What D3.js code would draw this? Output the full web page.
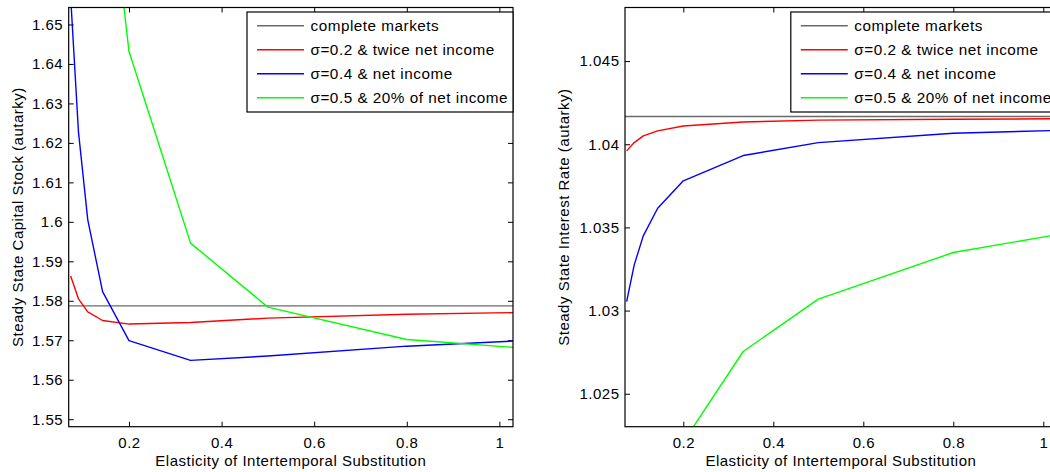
<!DOCTYPE html>
<html>
<head>
<meta charset="utf-8">
<script src="https://cdn.jsdelivr.net/npm/d3@7"></script>
<style>
  html, body { margin: 0; padding: 0; background: #fff; }
  svg { display: block; font-family: "Liberation Sans", Arial, Helvetica, sans-serif; }
  svg text { letter-spacing: 0.5px; }
</style>
</head>
<body>
<svg id="chart" width="1050" height="472"></svg>
<script>
// Elasticity of intertemporal substitution (shared x grid)
const eis = [0.074, 0.0909, 0.111, 0.143, 0.2, 0.333, 0.5, 0.8, 1.03];

// Steady-state capital stock under autarky
const capitalTwiceNet   = [1.5863, 1.5805, 1.5772, 1.5750, 1.5741, 1.5745, 1.5756, 1.5766, 1.5770];
const capitalNet        = [1.6570, 1.6228, 1.6005, 1.5823, 1.5699, 1.5649, 1.5660, 1.5685, 1.5698];
const capitalTwentyPct  = [null, null, null, 1.7015, 1.6432, 1.5946, 1.5784, 1.5702, 1.5682];
const capitalComplete   = 1.5787;

// Steady-state gross interest rate under autarky
const rateTwiceNet      = [1.0396, 1.0401, 1.0405, 1.0408, 1.0411, 1.04134, 1.04145, 1.0415, 1.04153];
const rateNet           = [1.03054, 1.03275, 1.03449, 1.03615, 1.0378, 1.03932, 1.0401, 1.04066, 1.04083];
const rateTwentyPct     = [null, null, null, null, 1.0221, 1.02754, 1.03069, 1.03349, 1.03456];
const rateComplete      = 1.041667;

// Legend entries
const legendLabels = ["complete markets", "σ=0.2 & twice net income", "σ=0.4 & net income", "σ=0.5 & 20% of net income"];
const legendColors = ["#6a6a6a", "#ff0000", "#0000ff", "#00ff00"];

// Axis ticks
const xTicks = [0.2, 0.4, 0.6, 0.8, 1];
const xTickLabels = ["0.2", "0.4", "0.6", "0.8", "1"];
const capTicks = [1.55, 1.56, 1.57, 1.58, 1.59, 1.6, 1.61, 1.62, 1.63, 1.64, 1.65];
const capTickLabels = ["1.55", "1.56", "1.57", "1.58", "1.59", "1.6", "1.61", "1.62", "1.63", "1.64", "1.65"];
const rateTicks = [1.025, 1.03, 1.035, 1.04, 1.045];
const rateTickLabels = ["1.025", "1.03", "1.035", "1.04", "1.045"];

const svg = d3.select("#chart");
svg.append("rect").attr("width", 1050).attr("height", 472).attr("fill", "#fff");

function panel(cfg) {
  const { left, right, top, bottom, xDomain, yDomain, yTicks, yTickLabels, series, refValue, ylabel, ylabelX, id } = cfg;
  const x = d3.scaleLinear().domain(xDomain).range([left, right]);
  const y = d3.scaleLinear().domain(yDomain).range([bottom, top]);
  const g = svg.append("g");

  g.append("clipPath").attr("id", id)
    .append("rect").attr("x", left).attr("y", top).attr("width", right - left).attr("height", bottom - top);

  const xFmt = d => xTickLabels[xTicks.indexOf(d)];
  const yFmt = d => yTickLabels[yTicks.indexOf(d)];

  g.append("g").attr("transform", `translate(0,${bottom})`)
    .call(d3.axisBottom(x).tickValues(xTicks).tickFormat(xFmt).tickSize(-5).tickPadding(11));
  g.append("g").attr("transform", `translate(0,${top})`)
    .call(d3.axisTop(x).tickValues(xTicks).tickFormat("").tickSize(-5));
  g.append("g").attr("transform", `translate(${left},0)`)
    .call(d3.axisLeft(y).tickValues(yTicks).tickFormat(yFmt).tickSize(-5).tickPadding(5.5));
  g.append("g").attr("transform", `translate(${right},0)`)
    .call(d3.axisRight(y).tickValues(yTicks).tickFormat("").tickSize(-5));
  g.selectAll(".domain").remove();
  g.selectAll(".tick line").attr("stroke", "#000").attr("stroke-width", 1);
  g.selectAll(".tick text").attr("fill", "#000").attr("font-size", 15)
    .attr("font-family", "'Liberation Sans', Arial, sans-serif");

  const plot = g.append("g").attr("clip-path", `url(#${id})`);

  plot.append("line")
    .attr("x1", left).attr("x2", right)
    .attr("y1", y(refValue)).attr("y2", y(refValue))
    .attr("stroke", legendColors[0]).attr("stroke-width", 1.4);

  const line = d3.line()
    .defined(d => d[1] !== null)
    .x(d => x(d[0])).y(d => y(d[1]));

  series.forEach((vals, i) => {
    plot.append("path")
      .datum(eis.map((e, k) => [e, vals[k]]))
      .attr("d", line)
      .attr("fill", "none")
      .attr("stroke", legendColors[i + 1])
      .attr("stroke-width", 1.4)
      .attr("stroke-linejoin", "round");
  });

  // frame
  g.append("rect")
    .attr("x", left).attr("y", top).attr("width", right - left).attr("height", bottom - top)
    .attr("fill", "none").attr("stroke", "#000").attr("stroke-width", 1.2);

  // legend
  const lw = 266, lh = 100;
  const lx = right - lw, ly = top + 4.5;
  const lg = g.append("g");
  lg.append("rect").attr("x", lx).attr("y", ly).attr("width", lw).attr("height", lh)
    .attr("fill", "#fff").attr("stroke", "#000").attr("stroke-width", 1.2);
  legendLabels.forEach((lab, i) => {
    const yy = ly + 13.7 + i * 24;
    lg.append("line").attr("x1", lx + 10).attr("x2", lx + 57).attr("y1", yy).attr("y2", yy)
      .attr("stroke", legendColors[i]).attr("stroke-width", 1.4);
    lg.append("text").attr("x", lx + 63.5).attr("y", yy).attr("dy", "0.35em")
      .attr("font-size", 15.3).attr("letter-spacing", "0.6px").attr("fill", "#000").text(lab);
  });

  // axis titles
  g.append("text").attr("x", (left + right) / 2).attr("y", 466)
    .attr("text-anchor", "middle").attr("font-size", 15).attr("fill", "#000")
    .text("Elasticity of Intertemporal Substitution");
  g.append("text")
    .attr("transform", `translate(${ylabelX},${(top + bottom) / 2}) rotate(-90)`)
    .attr("text-anchor", "middle").attr("font-size", 15).attr("fill", "#000")
    .text(ylabel);
}

panel({
  id: "clipCapital",
  left: 68.7, right: 513, top: 7.5, bottom: 426.7,
  xDomain: [0.0698, 1.0294],
  yDomain: [1.5481, 1.6543],
  yTicks: capTicks, yTickLabels: capTickLabels,
  series: [capitalTwiceNet, capitalNet, capitalTwentyPct],
  refValue: capitalComplete,
  ylabel: "Steady State Capital Stock (autarky)",
  ylabelX: 22.7
});

panel({
  id: "clipRate",
  left: 625, right: 1056.8, top: 7.5, bottom: 426.7,
  xDomain: [0.0704, 1.0300],
  yDomain: [1.02302, 1.04822],
  yTicks: rateTicks, yTickLabels: rateTickLabels,
  series: [rateTwiceNet, rateNet, rateTwentyPct],
  refValue: rateComplete,
  ylabel: "Steady State Interest Rate (autarky)",
  ylabelX: 569.3
});
</script>
</body>
</html>
